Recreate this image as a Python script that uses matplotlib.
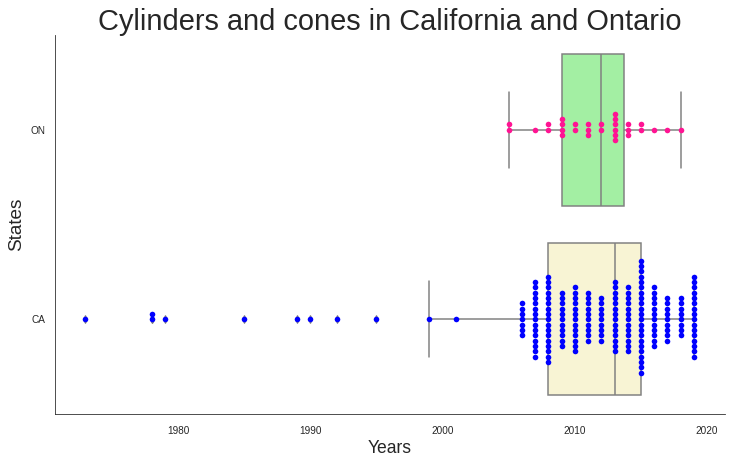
import numpy as np
import pandas as pd
import matplotlib
matplotlib.use("Agg")
import matplotlib.pyplot as plt
import seaborn as sns

# Data (year -> number of records)
ca_years  = [1973, 1978, 1979, 1985, 1989, 1990, 1992, 1995, 1999, 2001,
             2006, 2007, 2008, 2009, 2010, 2011, 2012, 2013, 2014, 2015,
             2016, 2017, 2018, 2019]
ca_counts = [1, 2, 1, 1, 1, 1, 1, 1, 1, 1,
             7, 15, 17, 11, 13, 10, 9, 14, 13, 22,
             12, 9, 8, 16]
on_years  = [2005, 2007, 2008, 2009, 2010, 2011, 2012, 2013, 2014, 2015,
             2016, 2017, 2018]
on_counts = [2, 1, 2, 4, 2, 3, 2, 6, 3, 2, 1, 1, 1]
states = ["ON", "CA"]
box_colors = {"ON": "#a3efa3", "CA": "#f8f4d4"}
point_colors = {"ON": "#ff1493", "CA": "#0000ff"}
state_years = {"ON": on_years, "CA": ca_years}
state_counts = {"ON": on_counts, "CA": ca_counts}

df = pd.concat([
    pd.DataFrame({"Years": np.repeat(ca_years, ca_counts), "States": "CA"}),
    pd.DataFrame({"Years": np.repeat(on_years, on_counts), "States": "ON"}),
], ignore_index=True)

sns.set_style("white")
plt.rcParams["font.family"] = ["Liberation Sans", "DejaVu Sans"]

DPI = 72
fig = plt.figure(figsize=(732 / DPI, 464 / DPI), dpi=DPI)
ax = fig.add_axes([55 / 732, 1 - 414 / 464, 670 / 732, 379 / 464])

sns.boxplot(data=df, x="Years", y="States", order=states, hue="States",
            hue_order=states, palette=box_colors, saturation=1, width=0.8,
            linecolor="#808080", linewidth=1.5, fliersize=5.5,
            flierprops=dict(marker="d", markerfacecolor="#808080",
                            markeredgecolor="#808080"),
            legend=False, ax=ax)

ax.set_xlim(1970.7, 2021.35)
ax.set_ylim(1.5, -0.5)

# swarm-like stacking: points of the same year are stacked along the
# category axis, one marker diameter apart, alternating up / down
marker_px = 5.6
step_px = 5.33
px_per_unit = ax.bbox.height / 2.0
step = step_px / px_per_unit
for i, st in enumerate(states):
    xs, ys = [], []
    for yr, n in zip(state_years[st], state_counts[st]):
        for k in range(n):
            m = (k + 1) // 2
            sign = -1 if k % 2 == 1 else 1
            xs.append(yr)
            ys.append(i + sign * m * step)
    ax.scatter(xs, ys, s=(marker_px * 72 / DPI) ** 2, color=point_colors[st],
               linewidths=0, zorder=5)

ax.set_title("Cylinders and cones in California and Ontario", fontsize=29,
             color="#262626", pad=5)
ax.set_xlabel("Years", fontsize=17.5, color="#262626", labelpad=4)
ax.set_ylabel("States", fontsize=19, color="#262626", labelpad=5.5)
ax.tick_params(axis="x", labelsize=10, colors="#262626", pad=8.5)
ax.tick_params(axis="y", labelsize=10, colors="#262626", pad=6)
ax.set_xticks([1980, 1990, 2000, 2010, 2020])
ax.set_yticks([0, 1])
ax.set_yticklabels(states)
sns.despine(ax=ax)
for s in ["left", "bottom"]:
    ax.spines[s].set_color("#262626")

fig.savefig("out.png", dpi=DPI)
